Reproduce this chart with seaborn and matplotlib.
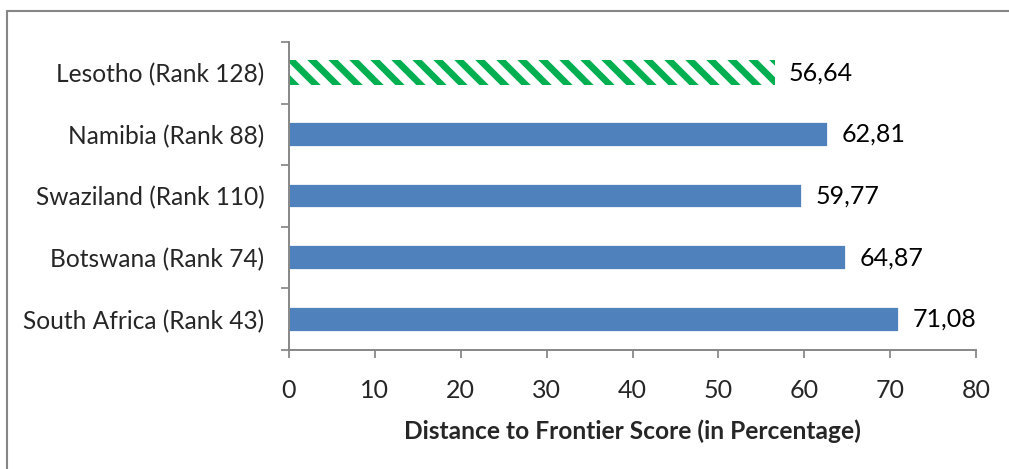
import matplotlib
matplotlib.use('Agg')
import matplotlib.pyplot as plt
import seaborn as sns
from matplotlib.lines import Line2D

countries = ['Lesotho (Rank 128)', 'Namibia (Rank 88)', 'Swaziland (Rank 110)',
             'Botswana (Rank 74)', 'South Africa (Rank 43)']
scores = [56.64, 62.81, 59.77, 64.87, 71.08]
score_labels = ['56,64', '62,81', '59,77', '64,87', '71,08']
x_ticks = [0, 10, 20, 30, 40, 50, 60, 70, 80]

blue = '#4F81BD'
green = '#00B050'
axis_grey = '#868686'

sns.set_style('white')
plt.rcParams['font.family'] = ['Lato', 'DejaVu Sans']
plt.rcParams['hatch.linewidth'] = 3.8

DPI = 126
fig = plt.figure(figsize=(1009 / DPI, 469 / DPI), dpi=DPI)
ax = fig.add_axes([289 / 1009, 1 - 350 / 469, (976 - 289) / 1009, (350 - 42) / 469])

sns.barplot(x=scores, y=countries, orient='h', width=0.4, color=blue,
            saturation=1, ax=ax)

# Lesotho bar: white with green diagonal stripes
hb = ax.patches[0]
hb.set_facecolor('white')
hb.set_edgecolor(green)
hb.set_linewidth(0)
hb.set_hatch('\\\\')

ax.bar_label(ax.containers[0], labels=score_labels, padding=7.5, fontsize=14.3, color='black')

ax.set_xlim(0, 80)
ax.set_ylim(4.5, -0.5)
ax.set_xticks(x_ticks)
ax.set_xticklabels([str(t) for t in x_ticks])
ax.set_yticks(range(len(countries)))
ax.set_yticks([i - 0.5 for i in range(len(countries) + 1)], minor=True)
ax.tick_params(axis='y', which='major', length=0, pad=14, labelsize=14)
ax.tick_params(axis='y', which='minor', length=4.6, width=1, color=axis_grey, direction='out', left=True)
ax.tick_params(axis='x', which='major', length=4.6, width=1, color=axis_grey, direction='out',
               bottom=True, pad=12, labelsize=14.3)

for s in ['top', 'right']:
    ax.spines[s].set_visible(False)
for s in ['left', 'bottom']:
    ax.spines[s].set_color(axis_grey)
    ax.spines[s].set_linewidth(1.1)

ax.set_xlabel('Distance to Frontier Score (in Percentage)', fontsize=14, fontweight='bold', labelpad=10)
ax.set_ylabel('')

# outer chart frame
fig.add_artist(Line2D([7 / 1009, 7 / 1009], [0, 1 - 11 / 469], transform=fig.transFigure,
                      color=axis_grey, lw=1.2))
fig.add_artist(Line2D([7 / 1009, 1], [1 - 11 / 469, 1 - 11 / 469], transform=fig.transFigure,
                      color=axis_grey, lw=1.2))

fig.savefig('out.png', dpi=DPI)
